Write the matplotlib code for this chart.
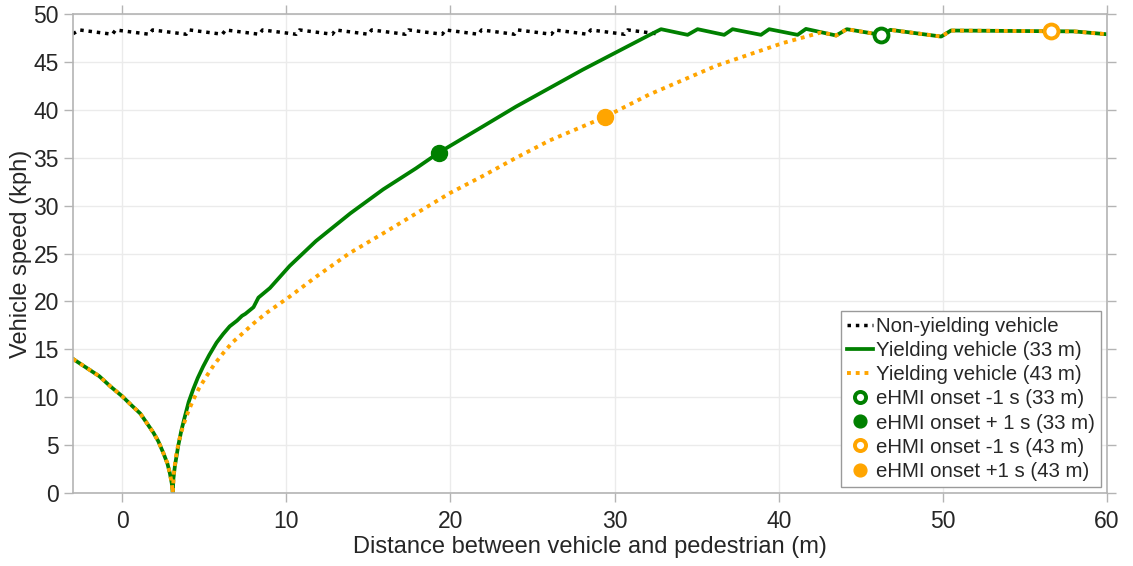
import matplotlib
matplotlib.use("Agg")
import matplotlib.pyplot as plt

plt.rcParams['font.family'] = ['Liberation Sans', 'DejaVu Sans']

# non-yielding vehicle: near-constant speed with a small sawtooth
nonyield_x = [-3.0, -2.6, -0.6, -0.4, 1.65, 1.85, 3.9, 4.1, 6.1, 6.3, 8.35, 8.55,
              10.6, 10.8, 12.8, 13.0, 15.0, 15.2, 17.25, 17.45, 19.5, 19.7, 21.7,
              21.9, 23.9, 24.1, 26.15, 26.35, 28.35, 28.55, 30.6, 30.8, 32.6]
nonyield_y = [47.95, 48.35, 47.9, 48.35, 47.9, 48.35, 47.9, 48.35, 47.9, 48.35, 47.9, 48.35,
              47.9, 48.35, 47.9, 48.35, 47.9, 48.35, 47.9, 48.35, 47.9, 48.35, 47.9,
              48.35, 47.9, 48.35, 47.9, 48.35, 47.9, 48.35, 47.9, 48.35, 47.95]

# approach to the stop (shared by both yielding vehicles)
stop_x = [-3.0, -2.2, -1.4, -0.7, 0.0, 0.6, 1.1, 1.5, 1.9, 2.2, 2.5, 2.75, 2.9, 3.02, 3.08]
stop_y = [14.0, 13.1, 12.2, 11.1, 10.1, 9.1, 8.3, 7.3, 6.3, 5.4, 4.2, 3.1, 2.1, 1.0, 0.0]

# yielding vehicle, stopping distance 33 m (after the stop)
yield33_x = [3.12, 3.21, 3.41, 3.6, 3.82, 4.05, 4.32, 4.6, 4.93, 5.3, 5.75, 6.15, 6.55,
             7.0, 7.3, 7.5, 8.0, 8.3, 9.0, 10.2, 11.8, 13.9, 15.9, 17.9,
             19.3, 22.0, 24.0, 28.06, 32.1, 32.83, 34.45, 35.06, 36.68, 37.19, 38.92,
             39.42, 41.15, 41.66, 43.5, 44.15, 46.3, 46.8, 49.9, 50.5, 58.0, 60.0]
yield33_y = [1.5, 2.8, 4.9, 6.5, 8.0, 9.5, 10.8, 12.0, 13.2, 14.4, 15.7, 16.6, 17.4,
             18.0, 18.5, 18.7, 19.4, 20.4, 21.4, 23.7, 26.3, 29.2, 31.7, 33.9,
             35.55, 38.3, 40.35, 44.2, 47.8, 48.43, 47.84, 48.43, 47.84, 48.43, 47.84,
             48.43, 47.84, 48.46, 47.77, 48.43, 47.82, 48.36, 47.66, 48.29, 48.2, 47.9]

# yielding vehicle, stopping distance 43 m (after the stop)
yield43_x = [3.15, 3.31, 3.5, 3.71, 4.0, 4.32, 4.7, 5.14, 5.6, 6.15, 6.7, 7.36, 8.0,
             8.79, 10.2, 11.83, 13.86, 15.89, 17.92, 19.95, 21.97, 24.0,
             26.03, 29.4, 32.1, 36.18, 40.23, 42.6, 43.5, 44.15, 46.3, 46.8, 49.9,
             50.5, 58.0, 60.0]
yield43_y = [2.2, 4.2, 5.7, 7.0, 8.4, 9.7, 11.0, 12.2, 13.4, 14.6, 15.7, 16.7, 17.7,
             18.8, 20.5, 22.6, 25.05, 27.1, 29.2, 31.3, 33.1, 35.0,
             36.8, 39.25, 41.6, 44.6, 46.97, 48.1, 47.77, 48.43, 47.82, 48.36, 47.66,
             48.29, 48.2, 47.9]

# eHMI onset markers
onset_minus_33 = (46.25, 47.8)
onset_plus_33 = (19.3, 35.55)
onset_minus_43 = (56.6, 48.2)
onset_plus_43 = (29.4, 39.25)

green = '#008000'
orange = '#ffa500'
grey = '#b4b4b4'
txt = '#262626'

fig = plt.figure(figsize=(11.33, 5.66), dpi=100)
ax = fig.add_axes([0.0644, 0.129, 0.9126, 0.846])

ax.plot(nonyield_x, nonyield_y, color='black', lw=2.5, dashes=(1, 1.4),
        dash_capstyle='butt', label='Non-yielding vehicle')
ax.plot(stop_x + yield33_x, stop_y + yield33_y, color=green, lw=2.7,
        label='Yielding vehicle (33 m)')
ax.plot(stop_x + yield43_x, stop_y + yield43_y, color=orange, lw=2.8, dashes=(1, 1.25),
        dash_capstyle='butt', label='Yielding vehicle (43 m)')

ax.plot(*onset_minus_33, 'o', ms=10, mfc='white', mec=green, mew=2.8,
        label='eHMI onset -1 s (33 m)')
ax.plot(*onset_plus_33, 'o', ms=11.5, color=green, label='eHMI onset + 1 s (33 m)')
ax.plot(*onset_minus_43, 'o', ms=10, mfc='white', mec=orange, mew=2.8,
        label='eHMI onset -1 s (43 m)')
ax.plot(*onset_plus_43, 'o', ms=11.5, color=orange, label='eHMI onset +1 s (43 m)')

ax.set_xlim(-3, 60)
ax.set_ylim(0, 50)
ax.set_xticks(range(0, 61, 10))
ax.set_yticks(range(0, 51, 5))
ax.grid(True, color='#ebebeb', lw=1)
ax.set_axisbelow(True)
for s in ax.spines.values():
    s.set_color(grey)
    s.set_linewidth(1.2)
ax.tick_params(direction='out', length=6.5, width=1, color=grey, labelcolor=txt,
               labelsize=16.5, top=True, right=True)
ax.tick_params(axis='x', pad=6)
ax.set_xlabel('Distance between vehicle and pedestrian (m)', fontsize=17, color=txt,
              labelpad=2)
ax.set_ylabel('Vehicle speed (kph)', fontsize=17, color=txt, labelpad=1)

leg = ax.legend(loc='lower right', fontsize=14.7, fancybox=False, framealpha=1,
                edgecolor='#9a9a9a', handlelength=1.3, handletextpad=0.12,
                labelspacing=0.25, borderpad=0.3, borderaxespad=0.3, markerscale=0.8)
leg.get_frame().set_linewidth(1)
for t in leg.get_texts():
    t.set_color(txt)

fig.savefig('out.png', dpi=100)
